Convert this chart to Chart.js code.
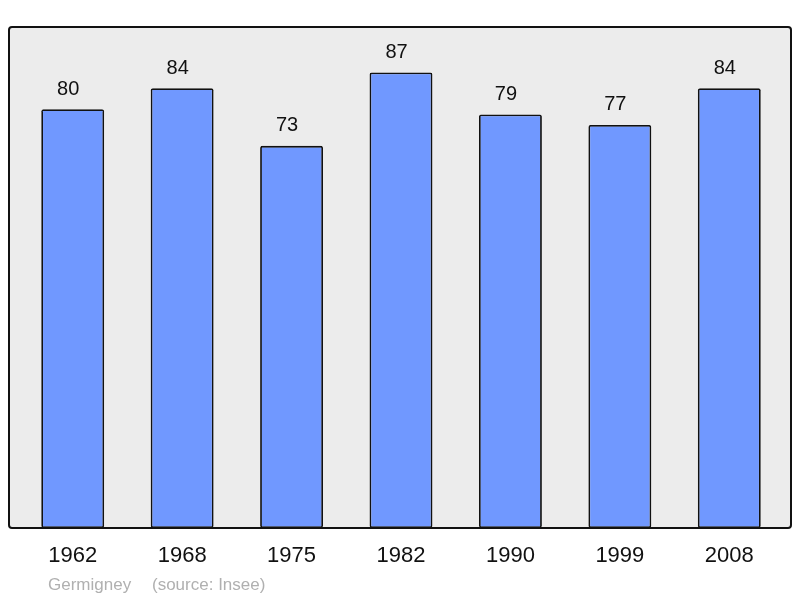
<!DOCTYPE html>
<html>
<head>
<meta charset="utf-8">
<script src="https://cdn.jsdelivr.net/npm/chart.js@4/dist/chart.umd.min.js"></script>
<style>
html,body{margin:0;padding:0;background:#fff;}
#wrap{width:800px;height:598px;position:relative;}
</style>
</head>
<body>
<div id="wrap"><canvas id="c" width="800" height="598"></canvas></div>
<script>
const years = ["1962","1968","1975","1982","1990","1999","2008"];
const population = [80,84,73,87,79,77,84];
const placeName = "Germigney";
const sourceText = "(source: Insee)";

const bgPlugin = {
  id:'bg',
  beforeDraw(chart){
    const {ctx, chartArea:a} = chart;
    const x0=9, x1=791, y0=a.top, y1=a.bottom;
    ctx.save();
    ctx.beginPath();
    if (ctx.roundRect) ctx.roundRect(x0,y0,x1-x0,y1-y0,3); else ctx.rect(x0,y0,x1-x0,y1-y0);
    ctx.fillStyle='#ececec';
    ctx.fill();
    ctx.restore();
  },
  afterDatasetsDraw(chart){
    const {ctx, chartArea:a} = chart;
    const x0=9, x1=791, y0=a.top, y1=a.bottom;
    ctx.save();
    ctx.beginPath();
    if (ctx.roundRect) ctx.roundRect(x0,y0,x1-x0,y1-y0,3); else ctx.rect(x0,y0,x1-x0,y1-y0);
    ctx.lineWidth=2;
    ctx.strokeStyle='#111';
    ctx.stroke();
    // value labels
    const meta = chart.getDatasetMeta(0);
    ctx.fillStyle='#111';
    ctx.font='20px "Liberation Sans", Arial, sans-serif';
    ctx.textAlign='center';
    ctx.textBaseline='middle';
    meta.data.forEach((el,i)=>{
      ctx.fillText(String(population[i]), el.x-4.5, el.y-20);
    });
    // footer
    ctx.fillStyle='#b0b0b0';
    ctx.font='17px "Liberation Sans", Arial, sans-serif';
    ctx.textAlign='left';
    ctx.fillText(placeName, 48, 585);
    ctx.fillText(sourceText, 152, 585);
    ctx.restore();
  }
};

new Chart(document.getElementById('c'), {
  type:'bar',
  data:{
    labels: years,
    datasets:[{
      data: population,
      backgroundColor:'#7098ff',
      borderColor:'#111',
      borderWidth:1.8,
      borderRadius:2,
      borderSkipped:false,
      barPercentage:0.575,
      categoryPercentage:1
    }]
  },
  options:{
    responsive:false,
    animation:false,
    devicePixelRatio:1,
    layout:{padding:{left:18,right:16,top:27,bottom:0}},
    plugins:{legend:{display:false},tooltip:{enabled:false},title:{display:false}},
    scales:{
      x:{
        grid:{display:false,drawTicks:false},
        border:{display:false},
        ticks:{color:'#111',font:{size:22,family:'"Liberation Sans", Arial, sans-serif'},padding:15,maxRotation:0},
        afterFit(s){ s.height = 70; }
      },
      y:{display:false,min:0,max:95.7}
    }
  },
  plugins:[bgPlugin]
});
</script>
</body>
</html>
